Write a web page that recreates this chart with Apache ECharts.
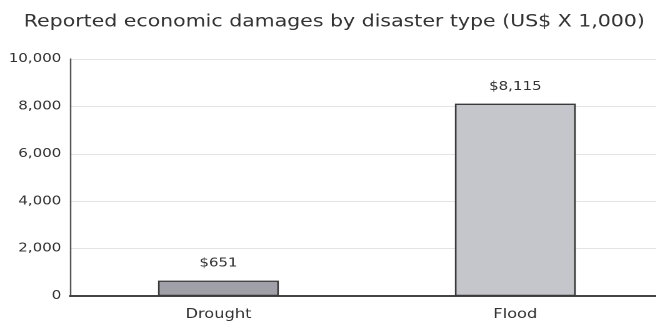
<!DOCTYPE html>
<html><head><meta charset="utf-8">
<script src="https://cdn.jsdelivr.net/npm/echarts@6/dist/echarts.min.js"></script>
<style>html,body{margin:0;padding:0;background:#fff;overflow:hidden;width:656px;height:329px}
#c{width:535px;height:329px;transform:scaleX(1.25);transform-origin:0 0}</style>
</head><body><div id="c"></div>
<script>
const categories = ["Drought", "Flood"];
const values = [651, 8115];
const valueLabels = ["$651", "$8,115"];
const yTicks = [0, 2000, 4000, 6000, 8000, 10000];
const barColors = ["#a0a0a8", "#c5c5cc"];
const title = "Reported economic damages by disaster type (US$ X 1,000)";

const chart = echarts.init(document.getElementById('c'), null, {renderer: 'canvas', devicePixelRatio: 2});
chart.setOption({
  animation: false,
  backgroundColor: '#fff',
  title: {
    text: title, left: 14, top: 9,
    textStyle: {fontFamily: 'DejaVu Sans', fontSize: 16.4, fontWeight: 'normal', color: '#333'}
  },
  grid: {left: 56, right: 4, top: 59, bottom: 33, containLabel: false},
  xAxis: {
    type: 'category', data: categories,
    axisLine: {lineStyle: {color: '#444', width: 2}},
    axisTick: {show: false},
    axisLabel: {fontFamily: 'DejaVu Sans', fontSize: 13, color: '#333', margin: 12}
  },
  yAxis: {
    type: 'value', min: yTicks[0], max: yTicks[yTicks.length - 1], interval: yTicks[1] - yTicks[0],
    axisLine: {show: true, lineStyle: {color: '#555', width: 1.2}},
    axisTick: {show: false},
    splitLine: {lineStyle: {color: '#e4e4e4'}},
    axisLabel: {fontFamily: 'DejaVu Sans', fontSize: 12, color: '#333', margin: 7,
      formatter: v => v.toLocaleString('en-US')}
  },
  series: [{
    type: 'bar', barWidth: '40.7%',
    data: values.map((v, i) => ({value: v, itemStyle: {color: barColors[i]}})),
    itemStyle: {borderColor: '#3a3a3a', borderWidth: 1.3},
    label: {show: true, position: 'top', distance: 11, fontFamily: 'DejaVu Sans', fontSize: 12, color: '#333',
      formatter: p => valueLabels[p.dataIndex]}
  }]
});
</script></body></html>
